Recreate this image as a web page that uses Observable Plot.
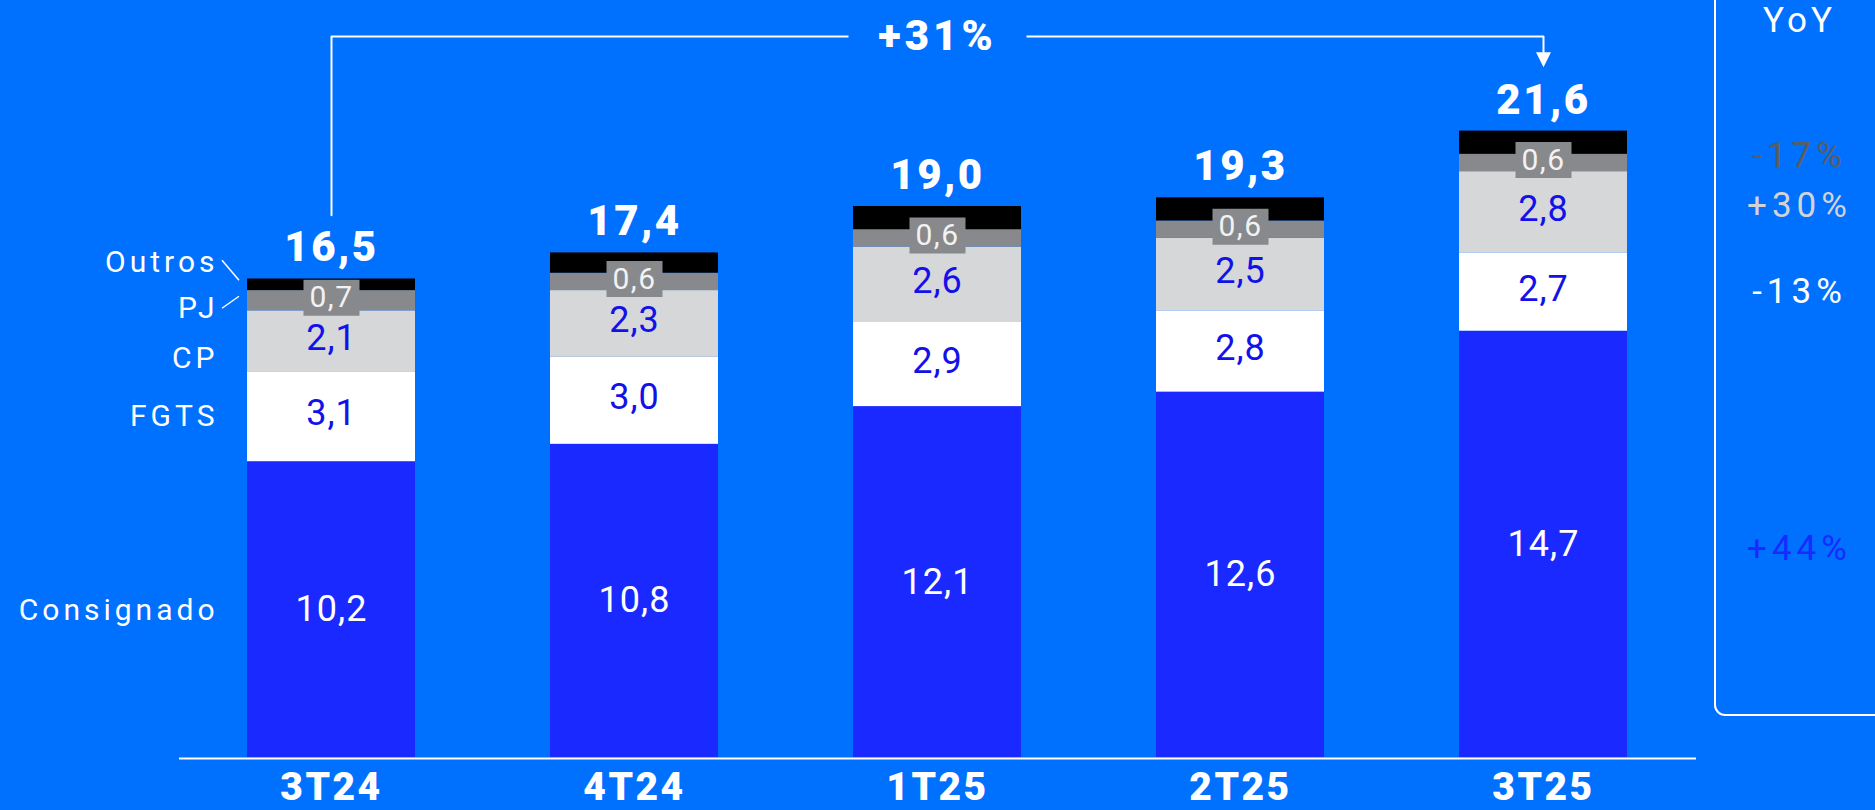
<!DOCTYPE html>
<html><head><meta charset="utf-8">
<script src="https://cdn.jsdelivr.net/npm/d3@7"></script>
<script src="https://cdn.jsdelivr.net/npm/@observablehq/plot@0.6"></script>
<style>
html,body{margin:0;padding:0;background:#0070FF;overflow:hidden}
#chart{position:relative;width:1875px;height:810px}
svg{font-family:Roboto,"Noto Sans",sans-serif}
</style></head><body><div id="chart"></div>
<script>
// ---- data ----
const quarters = ["3T24","4T24","1T25","2T25","3T25"];
const series = ["Consignado","FGTS","CP","PJ","Outros"];
const consignado = [10.2,10.8,12.1,12.6,14.7];
const fgts = [3.1,3.0,2.9,2.8,2.7];
const cp = [2.1,2.3,2.6,2.5,2.8];
const pj = [0.7,0.6,0.6,0.6,0.6];
const outros = [0.4,0.7,0.8,0.8,0.8];
const totals = [16.5,17.4,19.0,19.3,21.6];
const yoySeries = ["Consignado","FGTS","CP","PJ"];
const yoyLabels = ["+44%","-13%","+30%","-17%"];
const yoyTitle = "YoY";
const growthLabel = "+31%";

// ---- styles ----
const BG = "#0070FF";
const colors = {Consignado:"#1A29FF", FGTS:"#FFFFFF", CP:"#D6D7D9", PJ:"#87898C", Outros:"#000000"};
const valueColor = {Consignado:"#FFFFFF", FGTS:"#1212E8", CP:"#1212E8", PJ:"#F2F2F2"};
const yoyColor = {Consignado:"#1A29FF", FGTS:"#FFFFFF", CP:"#D2D3D6", PJ:"#5C5D61"};
const leftDy = {Consignado:1, FGTS:0, CP:17, PJ:8, Outros:-22};
const yoyDy = {Consignado:4, FGTS:0, CP:-7, PJ:-7};

const valuesBySeries = {Consignado:consignado, FGTS:fgts, CP:cp, PJ:pj, Outros:outros};
const fmt = v => v.toFixed(1).replace(".", ",");

const rows = [];
quarters.forEach((q, i) => {
  let acc = 0;
  for (const s of series) {
    const v = valuesBySeries[s][i];
    rows.push({q, s, v, y1: acc, y2: acc + v, mid: acc + v / 2});
    acc += v;
  }
});
const totalRows = quarters.map((q, i) => ({q, t: totals[i]}));
const first = quarters[0], last = quarters[quarters.length - 1];
const yMax = 25;
const arrowGap = 2.2;
const level = yMax - 0.14;

const rectSym = (w, h) => ({draw(ctx) { ctx.rect(-w/2, -h/2, w, h); }});
const downTri = {draw(ctx) { ctx.moveTo(-7.5, -15); ctx.lineTo(7.5, -15); ctx.lineTo(0, 0); ctx.closePath(); }};
const spaced = px => (index, scales, values, dims, ctx, next) => {
  const g = next(index, scales, values, dims, ctx);
  g.style.letterSpacing = px + "px";
  return g;
};

const bracket = [
  {q: first, y: totals[0] + arrowGap},
  {q: first, y: level},
  {q: last, y: level},
  {q: last, y: totals[totals.length - 1] + arrowGap + 0.45}
];

const leftMarks = series.map(s => Plot.text(rows.filter(d => d.q === first && d.s === s),
  {x: "q", y: "mid", dx: -113, dy: leftDy[s], text: "s", textAnchor: "end", fill: "white", fontSize: 30, render: spaced(4)}));

const yoyMarks = yoySeries.map((s, k) => Plot.text([rows.find(d => d.q === last && d.s === s)],
  {x: "q", y: "mid", dx: 256, dy: yoyDy[s], text: [yoyLabels[k]], fill: yoyColor[s], fontSize: 35, render: spaced(5)}));

const plot = Plot.plot({
  width: 1875, height: 810,
  marginLeft: 179, marginRight: 179, marginTop: 32, marginBottom: 53,
  style: {background: "transparent", color: "white", fontFamily: "Roboto, sans-serif", overflow: "visible"},
  x: {domain: quarters, range: [110.7, 1762.5], padding: 0.446, label: null},
  y: {domain: [0, yMax], axis: null},
  color: {domain: series, range: series.map(s => colors[s])},
  marks: [
    Plot.barY(rows, {x: "q", y1: "y1", y2: "y2", fill: "s"}),
    Plot.ruleY([0], {stroke: "white", strokeWidth: 2, dy: 1}),
    // PJ label boxes
    Plot.dot(rows.filter(d => d.s === "PJ"), {x: "q", y: "mid", dy: -3, symbol: rectSym(56, 36), fill: colors.PJ, r: 5}),
    // segment values
    Plot.text(rows.filter(d => d.s === "Consignado"), {x: "q", y: "mid", text: d => fmt(d.v), fill: valueColor.Consignado, fontSize: 36, render: spaced(1)}),
    Plot.text(rows.filter(d => d.s === "FGTS" || d.s === "CP"), {x: "q", y: "mid", dy: -3, text: d => fmt(d.v), fill: valueColor.FGTS, fontSize: 36, render: spaced(1)}),
    Plot.text(rows.filter(d => d.s === "PJ"), {x: "q", y: "mid", dy: -3, text: d => fmt(d.v), fill: valueColor.PJ, fontSize: 30, render: spaced(1.5)}),
    // totals
    Plot.text(totalRows, {x: "q", y: "t", dy: -31, text: d => fmt(d.t), fill: "white", fontSize: 42, fontWeight: 900, render: spaced(2.5)}),
    // left series labels
    ...leftMarks,
    // bracket
    Plot.line(bracket, {x: "q", y: "y", stroke: "white", strokeWidth: 2, curve: "linear"}),
    Plot.dot([{q: last, y: totals[totals.length - 1] + arrowGap}], {x: "q", y: "y", symbol: downTri, fill: "white", r: 5}),
    Plot.dot([{q: quarters[2], y: level}], {x: "q", y: "y", symbol: rectSym(178, 40), fill: BG, r: 5}),
    Plot.text([{q: quarters[2], y: level}], {x: "q", y: "y", text: [growthLabel], fill: "white", fontSize: 42, fontWeight: 900, render: spaced(4)}),
    // YoY column
    Plot.text([{q: last, y: yMax}], {x: "q", y: "y", dx: 256, dy: -12, text: [yoyTitle], fill: "white", fontSize: 35, render: spaced(4)}),
    ...yoyMarks,
    Plot.axisX({tickSize: 0, tickPadding: 15, fontSize: 39, fontWeight: 900, label: null})
  ]
});

document.getElementById("chart").appendChild(plot);
const svg = d3.select(plot);
svg.selectAll('g[aria-label="x-axis tick label"]').style("letter-spacing", "2.5px");

// leader lines and YoY panel, positioned from Plot's own scales
const xs = plot.scale("x"), ys = plot.scale("y");
const bx = xs.apply(first);
const outMid = ys.apply(rows.find(d => d.q === first && d.s === "Outros").mid);
const pjMid = ys.apply(rows.find(d => d.q === first && d.s === "PJ").mid);
const deco = svg.append("g").attr("stroke", "white").attr("stroke-width", 1.5).attr("fill", "none");
deco.append("line").attr("x1", bx - 25).attr("y1", outMid - 24).attr("x2", bx - 8).attr("y2", outMid - 4);
deco.append("line").attr("x1", bx - 25).attr("y1", pjMid + 8).attr("x2", bx - 8).attr("y2", pjMid - 4);
const panelLeft = xs.apply(last) + xs.bandwidth + 88;
const panelBottom = ys.apply(0) - 42;
deco.append("rect").attr("x", panelLeft).attr("y", -30).attr("width", 400).attr("height", panelBottom + 30).attr("rx", 10).attr("stroke-width", 2);
</script></body></html>
